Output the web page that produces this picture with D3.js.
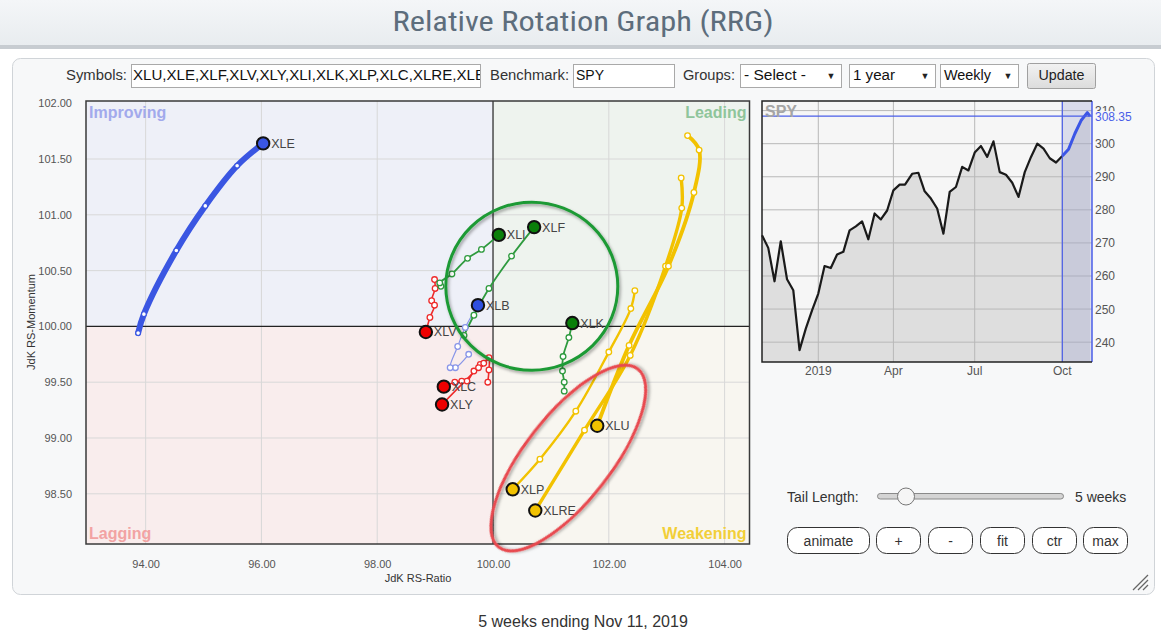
<!DOCTYPE html>
<html><head><meta charset="utf-8">
<script src="https://cdn.jsdelivr.net/npm/d3@7"></script>
<style>
body{margin:0;background:#fff;width:1161px;height:638px;overflow:hidden;}
svg{display:block;font-family:"Liberation Sans",Arial,sans-serif;}
</style></head><body>
<svg id="c" width="1161" height="638"></svg>
<script>
// ---------------- DATA ----------------
const titleText = "Relative Rotation Graph (RRG)";
const symbolsText = "XLU,XLE,XLF,XLV,XLY,XLI,XLK,XLP,XLC,XLRE,XLB";
const benchmark = "SPY";
const footerText = "5 weeks ending Nov 11, 2019";
const quadrantNames = ["Improving", "Leading", "Lagging", "Weakening"];
const ratioTicks = [94, 96, 98, 100, 102, 104];
const momentumTicks = [98.5, 99, 99.5, 100, 100.5, 101, 101.5, 102];

// RS-Ratio / RS-Momentum tails (oldest -> newest, last = head)
const xleRatio    = [93.87, 93.97, 94.53, 95.03, 95.58, 96.03];
const xleMomentum = [99.94, 100.11, 100.68, 101.08, 101.44, 101.64];
const xlfRatio    = [99.50, 99.67, 99.93, 100.32, 100.71];
const xlfMomentum = [99.92, 100.10, 100.34, 100.63, 100.89];
const xliRatio    = [99.10, 99.08, 99.29, 99.56, 99.80, 100.10];
const xliMomentum = [100.36, 100.39, 100.47, 100.61, 100.69, 100.82];
const xlbRatio    = [99.58, 99.35, 99.26, 99.39, 99.52, 99.74];
const xlbMomentum = [99.75, 99.63, 99.63, 99.82, 99.99, 100.19];
const xlkRatio    = [101.23, 101.23, 101.20, 101.21, 101.31, 101.37];
const xlkMomentum = [99.42, 99.50, 99.60, 99.73, 99.90, 100.03];
const xlvRatio    = [98.99, 99.00, 98.94, 98.99, 98.91, 98.84];
const xlvMomentum = [100.42, 100.34, 100.23, 100.19, 100.08, 99.95];
const xlcRatio    = [99.78, 99.67, 99.55, 99.46, 99.34, 99.15];
const xlcMomentum = [99.66, 99.60, 99.51, 99.51, 99.50, 99.46];
const xlyRatio    = [99.91, 99.93, 99.93, 99.84, 99.75, 99.12];
const xlyMomentum = [99.50, 99.61, 99.72, 99.67, 99.63, 99.30];
const xluRatio    = [103.36, 103.56, 103.47, 103.03, 102.35, 101.80];
const xluMomentum = [101.71, 101.58, 101.20, 100.54, 99.83, 99.11];
const xlreRatio   = [103.25, 103.26, 102.98, 102.37, 101.58, 100.73];
const xlreMomentum= [101.33, 101.06, 100.54, 99.74, 99.07, 98.35];
const xlpRatio    = [102.45, 102.38, 102.00, 101.43, 100.81, 100.34];
const xlpMomentum = [100.32, 100.16, 99.77, 99.24, 98.81, 98.54];

// SPY benchmark weekly closes
const spyDates = ["2018-11-09","2018-11-16","2018-11-23","2018-11-30","2018-12-07","2018-12-14","2018-12-21","2018-12-28",
 "2019-01-04","2019-01-11","2019-01-18","2019-01-25","2019-02-01","2019-02-08","2019-02-15","2019-02-22","2019-03-01",
 "2019-03-08","2019-03-15","2019-03-22","2019-03-29","2019-04-05","2019-04-12","2019-04-18","2019-04-26","2019-05-03",
 "2019-05-10","2019-05-17","2019-05-24","2019-05-31","2019-06-07","2019-06-14","2019-06-21","2019-06-28","2019-07-05",
 "2019-07-12","2019-07-19","2019-07-26","2019-08-02","2019-08-09","2019-08-16","2019-08-23","2019-08-30","2019-09-06",
 "2019-09-13","2019-09-20","2019-09-27","2019-10-04","2019-10-11","2019-10-18","2019-10-25","2019-11-01","2019-11-08","2019-11-11"];
const spyClose = [272.3,268.5,258.4,270.5,259.0,255.7,237.6,244.1,249.6,254.7,263.0,262.4,266.5,267.3,273.8,275.0,276.5,
 271.1,278.9,277.1,279.8,285.9,287.6,287.6,290.9,291.2,285.6,283.4,280.4,272.8,285.4,286.9,293.0,291.9,297.3,
 299.3,296.0,300.7,291.4,290.6,288.2,283.9,291.4,296.0,300.0,298.5,295.6,294.3,296.3,298.3,303.0,307.0,309.4,308.35];
const spyTicks = [240, 250, 260, 270, 280, 290, 300, 310];
const spyDateTicks = ["2019-01-11", "2019-04-05", "2019-07-05", "2019-10-11"];
const spyDateLabels = ["2019", "Apr", "Jul", "Oct"];
const tailStartDate = "2019-10-11";

const buttonLabels = ["animate", "+", "-", "fit", "ctr", "max"];

// ---------------- STYLE ----------------
const series = [
  {sym:"XLB",  r:xlbRatio,  m:xlbMomentum,  line:"#8895e8", head:"#2f4fe0", w:1.2},
  {sym:"XLV",  r:xlvRatio,  m:xlvMomentum,  line:"#ee2a2a", head:"#ee0000", w:1.6},
  {sym:"XLC",  r:xlcRatio,  m:xlcMomentum,  line:"#ee2a2a", head:"#ee0000", w:1.6},
  {sym:"XLY",  r:xlyRatio,  m:xlyMomentum,  line:"#ee2a2a", head:"#ee0000", w:1.6},
  {sym:"XLI",  r:xliRatio,  m:xliMomentum,  line:"#2e9a3e", head:"#0a7f0a", w:1.8},
  {sym:"XLF",  r:xlfRatio,  m:xlfMomentum,  line:"#2e9a3e", head:"#0a7f0a", w:1.8},
  {sym:"XLK",  r:xlkRatio,  m:xlkMomentum,  line:"#2e9a3e", head:"#0a7f0a", w:1.8},
  {sym:"XLP",  r:xlpRatio,  m:xlpMomentum,  line:"#f2c200", head:"#f2c200", w:2.4},
  {sym:"XLRE", r:xlreRatio, m:xlreMomentum, line:"#f2c200", head:"#f2c200", w:3.4},
  {sym:"XLU",  r:xluRatio,  m:xluMomentum,  line:"#f2c200", head:"#f2c200", w:3.8},
  {sym:"XLE",  r:xleRatio,  m:xleMomentum,  line:"#3a56e2", head:"#3a56e2", w:6}
];

const svg = d3.select("#c");
const defs = svg.append("defs");
const sh = defs.append("filter").attr("id","shadow").attr("x","-20%").attr("y","-20%").attr("width","140%").attr("height","140%");
sh.append("feDropShadow").attr("dx",1.5).attr("dy",2).attr("stdDeviation",1.5).attr("flood-color","#000").attr("flood-opacity",0.35);

// header
const hg = defs.append("linearGradient").attr("id","hg").attr("x1",0).attr("y1",0).attr("x2",0).attr("y2",1);
hg.append("stop").attr("offset",0).attr("stop-color","#f4f6f8");
hg.append("stop").attr("offset",1).attr("stop-color","#e8ecef");
svg.append("rect").attr("x",0).attr("y",0).attr("width",1161).attr("height",46).attr("fill","url(#hg)");
svg.append("rect").attr("x",0).attr("y",45).attr("width",1161).attr("height",4).attr("fill","#c7ccd1");
svg.append("text").attr("x",583).attr("y",31).attr("text-anchor","middle")
  .attr("font-family","'Liberation Sans Narrow','Roboto Condensed','Liberation Sans',sans-serif")
  .attr("font-size",27).attr("fill","#5d6d7c").attr("textLength",381).attr("lengthAdjust","spacingAndGlyphs").text(titleText);

// panel
svg.append("rect").attr("x",12.5).attr("y",58.5).attr("width",1142).attr("height",536).attr("rx",8)
  .attr("fill","#f7f8f9").attr("stroke","#d0d4d8");

// controls row
const cond = "'Liberation Sans Narrow','Liberation Sans',sans-serif";
function lbl(x, t, w){ svg.append("text").attr("x",x).attr("y",80).attr("font-size",14).attr("font-family",cond)
  .attr("fill","#333").attr("textLength",w).attr("lengthAdjust","spacingAndGlyphs").text(t); }
lbl(66,"Symbols:",61); lbl(490,"Benchmark:",79); lbl(683,"Groups:",52);
defs.append("clipPath").attr("id","symclip").append("rect").attr("x",132).attr("y",64).attr("width",348).attr("height",23);
svg.append("rect").attr("x",131.5).attr("y",64.5).attr("width",349).attr("height",23).attr("fill","#fff").attr("stroke","#a9a9a9");
svg.append("text").attr("x",133).attr("y",80).attr("font-size",14).attr("font-family",cond).attr("fill","#111")
  .attr("clip-path","url(#symclip)").attr("textLength",352).attr("lengthAdjust","spacingAndGlyphs").text(symbolsText);
svg.append("rect").attr("x",573.5).attr("y",64.5).attr("width",101).attr("height",23).attr("fill","#fff").attr("stroke","#a9a9a9");
svg.append("text").attr("x",576).attr("y",80).attr("font-size",14).attr("font-family",cond).attr("fill","#111").text(benchmark);
const selects = [{x:740,w:101,t:"- Select -",tw:62},{x:849,w:86,t:"1 year",tw:42},{x:940,w:78,t:"Weekly",tw:47}];
selects.forEach(s=>{
  svg.append("rect").attr("x",s.x+0.5).attr("y",64.5).attr("width",s.w).attr("height",23).attr("fill","#fff").attr("stroke","#a9a9a9");
  svg.append("text").attr("x",s.x+4).attr("y",80).attr("font-size",14).attr("font-family",cond).attr("fill","#111")
    .attr("textLength",s.tw).attr("lengthAdjust","spacingAndGlyphs").text(s.t);
  svg.append("text").attr("x",s.x+s.w-10).attr("y",79).attr("text-anchor","middle").attr("font-size",9).attr("fill","#222").text("▼");
});
const bg = defs.append("linearGradient").attr("id","bg").attr("x1",0).attr("y1",0).attr("x2",0).attr("y2",1);
bg.append("stop").attr("offset",0).attr("stop-color","#f2f2f2");
bg.append("stop").attr("offset",1).attr("stop-color","#dcdcdc");
svg.append("rect").attr("x",1027.5).attr("y",63.5).attr("width",68).attr("height",25).attr("rx",2).attr("fill","url(#bg)").attr("stroke","#a0a0a0");
svg.append("text").attr("x",1061.5).attr("y",80).attr("text-anchor","middle").attr("font-size",14).attr("font-family",cond)
  .attr("fill","#222").attr("textLength",46).attr("lengthAdjust","spacingAndGlyphs").text("Update");

// ---------------- RRG ----------------
const X0 = 86, X1 = 749.5, Y0 = 101, Y1 = 544;
const x = d3.scaleLinear().domain([92.97, 104.43]).range([X0, X1]);
const y = d3.scaleLinear().domain([98.05, 102.02]).range([Y1, Y0]);
const g = svg.append("g");
const qx = x(100), qy = y(100);
const quads = [
  {x:X0, y:Y0, w:qx-X0, h:qy-Y0, fill:"#eef0f8"},
  {x:qx, y:Y0, w:X1-qx, h:qy-Y0, fill:"#eef3ee"},
  {x:X0, y:qy, w:qx-X0, h:Y1-qy, fill:"#f9eded"},
  {x:qx, y:qy, w:X1-qx, h:Y1-qy, fill:"#f8f6f0"}
];
g.selectAll("rect.q").data(quads).join("rect").attr("x",d=>d.x).attr("y",d=>d.y).attr("width",d=>d.w).attr("height",d=>d.h).attr("fill",d=>d.fill);
g.selectAll("line.gx").data(ratioTicks.filter(v=>v!==100)).join("line").attr("x1",d=>x(d)).attr("x2",d=>x(d)).attr("y1",Y0).attr("y2",Y1).attr("stroke","#d8d8d8");
g.selectAll("line.gy").data(momentumTicks.filter(v=>v!==100 && v!==102)).join("line").attr("y1",d=>y(d)).attr("y2",d=>y(d)).attr("x1",X0).attr("x2",X1).attr("stroke","#d8d8d8");
g.append("line").attr("x1",qx).attr("x2",qx).attr("y1",Y0).attr("y2",Y1).attr("stroke","#222").attr("stroke-width",1.2);
g.append("line").attr("y1",qy).attr("y2",qy).attr("x1",X0).attr("x2",X1).attr("stroke","#222").attr("stroke-width",1.2);
g.append("rect").attr("x",X0).attr("y",Y0).attr("width",X1-X0).attr("height",Y1-Y0).attr("fill","none").attr("stroke","#3a3a3a").attr("stroke-width",1.5);

// quadrant labels
const ql = [
  {t:quadrantNames[0], x:X0+3, y:Y0+17, a:"start", c:"#a2aaec"},
  {t:quadrantNames[1], x:X1-3, y:Y0+17, a:"end", c:"#8fc59b"},
  {t:quadrantNames[2], x:X0+3, y:Y1-5, a:"start", c:"#f2a3a3"},
  {t:quadrantNames[3], x:X1-3, y:Y1-5, a:"end", c:"#f2cf38"}
];
g.selectAll("text.ql").data(ql).join("text").attr("x",d=>d.x).attr("y",d=>d.y).attr("text-anchor",d=>d.a)
  .attr("font-size",16).attr("font-weight","bold").attr("fill",d=>d.c).text(d=>d.t);

// axes
const ax = g.append("g").attr("transform",`translate(0,${Y1})`)
  .call(d3.axisBottom(x).tickValues(ratioTicks).tickFormat(d3.format(".2f")).tickSize(0).tickPadding(16));
ax.select(".domain").remove();
ax.selectAll("text").attr("font-size",11).attr("fill","#555").attr("font-family","'Liberation Sans',Arial,sans-serif");
const ay = g.append("g").attr("transform",`translate(${X0},0)`)
  .call(d3.axisLeft(y).tickValues(momentumTicks).tickFormat(d3.format(".2f")).tickSize(0).tickPadding(14));
ay.select(".domain").remove();
ay.selectAll("text").attr("font-size",11).attr("fill","#555").attr("font-family","'Liberation Sans',Arial,sans-serif");
g.append("text").attr("x",418).attr("y",582).attr("text-anchor","middle").attr("font-size",11).attr("fill","#333").text("JdK RS-Ratio");
g.append("text").attr("transform","translate(35,322) rotate(-90)").attr("text-anchor","middle").attr("font-size",11).attr("fill","#333").text("JdK RS-Momentum");

// tails
const line = d3.line().x(d=>x(d[0])).y(d=>y(d[1])).curve(d3.curveCatmullRom.alpha(0.5));
series.forEach(s=>{ s.pts = s.r.map((v,i)=>[v, s.m[i]]); });
series.forEach(s=>{
  g.append("path").attr("d",line(s.pts)).attr("fill","none").attr("stroke",s.line).attr("stroke-width",s.w).attr("stroke-linecap","round");
});
series.forEach(s=>{
  g.selectAll(null).data(s.pts.slice(0,-1)).join("circle").attr("cx",d=>x(d[0])).attr("cy",d=>y(d[1]))
    .attr("r", s.w>=5 ? 2.4 : 2.8).attr("fill","#fff").attr("stroke",s.line).attr("stroke-width", s.w>=5 ? 1.2 : 1.3);
});
series.forEach(s=>{
  const h = s.pts[s.pts.length-1];
  g.append("circle").attr("cx",x(h[0])).attr("cy",y(h[1])).attr("r",6.2).attr("fill",s.head).attr("stroke","#111").attr("stroke-width",2);
  g.append("text").attr("x",x(h[0])+8).attr("y",y(h[1])+4.5).attr("font-size",12.5).attr("fill","#444").text(s.sym);
});

// annotation ellipses
g.append("ellipse").attr("cx",x(100.67)).attr("cy",y(100.36)).attr("rx",86).attr("ry",84)
  .attr("fill","none").attr("stroke","#1f9a35").attr("stroke-width",3).attr("filter","url(#shadow)");
g.append("ellipse").attr("transform",`translate(${x(101.30)},${y(98.82)}) rotate(-52)`).attr("rx",113).attr("ry",43)
  .attr("fill","none").attr("stroke","#e84a4f").attr("stroke-width",3).attr("filter","url(#shadow)");

// ---------------- SPY chart ----------------
const parse = d3.utcParse("%Y-%m-%d");
const sd = spyDates.map(parse);
const SX0 = 762, SX1 = 1092, SY0 = 101, SY1 = 362;
const sx = d3.scaleUtc().domain([sd[0], sd[sd.length-1]]).range([SX0, 1090]);
const sy = d3.scaleLinear().domain([234, 312.9]).range([SY1, SY0]);
const sg = svg.append("g");
defs.append("clipPath").attr("id","spyclip").append("rect").attr("x",SX0).attr("y",SY0).attr("width",SX1-SX0).attr("height",SY1-SY0);
sg.append("rect").attr("x",SX0).attr("y",SY0).attr("width",SX1-SX0).attr("height",SY1-SY0).attr("fill","#f6f6f6");
const spyPts = sd.map((d,i)=>[d, spyClose[i]]);
const area = d3.area().x(d=>sx(d[0])).y0(SY1).y1(d=>sy(d[1]));
sg.append("path").attr("d",area(spyPts)).attr("fill","#dedede").attr("clip-path","url(#spyclip)");
sg.selectAll("line.sgy").data(spyTicks).join("line").attr("x1",SX0).attr("x2",SX1).attr("y1",d=>sy(d)).attr("y2",d=>sy(d))
  .attr("stroke","#b8b8b8").attr("stroke-width",1).attr("clip-path","url(#spyclip)");
const tickDates = spyDateTicks.map(parse);
sg.selectAll("line.sgx").data(tickDates).join("line").attr("x1",d=>sx(d)).attr("x2",d=>sx(d)).attr("y1",SY0).attr("y2",SY1)
  .attr("stroke","#b8b8b8");
const ts = parse(tailStartDate);
sg.append("rect").attr("x",sx(ts)).attr("y",SY0).attr("width",SX1-sx(ts)).attr("height",SY1-SY0).attr("fill","#98a0d0").attr("opacity",0.3);
const tsIdx = spyDates.indexOf(tailStartDate);
const sline = d3.line().x(d=>sx(d[0])).y(d=>sy(d[1]));
sg.append("path").attr("d",sline(spyPts.slice(0,tsIdx+1))).attr("fill","none").attr("stroke","#1a1a1a").attr("stroke-width",2.2).attr("stroke-linejoin","round");
sg.append("path").attr("d",sline(spyPts.slice(tsIdx))).attr("fill","none").attr("stroke","#3b55e6").attr("stroke-width",3).attr("stroke-linejoin","round");
const lastV = spyClose[spyClose.length-1];
sg.append("line").attr("x1",SX0).attr("x2",SX1).attr("y1",sy(lastV)).attr("y2",sy(lastV)).attr("stroke","#4a5ee8").attr("stroke-width",1.2);
sg.append("line").attr("x1",sx(ts)).attr("x2",sx(ts)).attr("y1",SY0).attr("y2",SY1).attr("stroke","#4a5ee8").attr("stroke-width",1.2);
sg.append("line").attr("x1",SX1).attr("x2",SX1).attr("y1",SY0).attr("y2",SY1).attr("stroke","#4a5ee8").attr("stroke-width",1.5);
sg.append("path").attr("d",`M${SX1},${SY0}H${SX0}V${SY1}H${SX1}`).attr("fill","none").attr("stroke","#222").attr("stroke-width",1.5);
sg.append("text").attr("x",SX0+3).attr("y",SY0+16).attr("font-size",16).attr("font-weight","bold").attr("fill","#a5a5a5").text(benchmark);
// right-axis labels; the top one is partly hidden under the last-value label, as in the source
defs.append("clipPath").attr("id","lblclip").append("rect").attr("x",SX1).attr("y",100).attr("width",60).attr("height",275);
sg.selectAll("text.sty").data(spyTicks).join("text").attr("x",SX1+3).attr("y",d=>sy(d)+4.5).attr("font-size",12)
  .attr("fill","#555").attr("clip-path","url(#lblclip)").text(d=>d);
sg.append("rect").attr("x",SX1+2).attr("y",sy(lastV)-5).attr("width",40).attr("height",12).attr("fill","#f7f8f9");
sg.append("text").attr("x",SX1+3).attr("y",sy(lastV)+5).attr("font-size",12).attr("fill","#4a5ee8").text(lastV.toFixed(2));
sg.selectAll("text.stx").data(tickDates).join("text").attr("x",d=>sx(d)).attr("y",SY1+13).attr("text-anchor","middle")
  .attr("font-size",12).attr("fill","#555").text((d,i)=>spyDateLabels[i]);

// ---------------- controls bottom right ----------------
svg.append("text").attr("x",787).attr("y",502).attr("font-size",14).attr("fill","#333").text("Tail Length:");
svg.append("rect").attr("x",877.5).attr("y",493.5).attr("width",186).attr("height",5.5).attr("rx",2.75).attr("fill","#d4d4d4").attr("stroke","#8a8a8a");
svg.append("circle").attr("cx",906).attr("cy",496.5).attr("r",8.5).attr("fill","#f5f5f5").attr("stroke","#777");
svg.append("text").attr("x",1075).attr("y",502).attr("font-size",14).attr("fill","#333").text("5 weeks");
const btnX = [787, 876, 928, 980, 1032, 1083];
const btnW = [82, 44, 44, 44, 44, 44];
buttonLabels.forEach((t,i)=>{
  svg.append("rect").attr("x",btnX[i]+0.5).attr("y",527.5).attr("width",btnW[i]).attr("height",26).attr("rx",10).attr("fill","#fff").attr("stroke","#333");
  svg.append("text").attr("x",btnX[i]+btnW[i]/2+0.5).attr("y",545.5).attr("text-anchor","middle").attr("font-size",14).attr("fill","#333").text(t);
});
// resize grip
[[1148,575,1133,590],[1148,580,1138,590],[1148,585,1143,590]].forEach(l=>{
  svg.append("line").attr("x1",l[0]).attr("y1",l[1]).attr("x2",l[2]).attr("y2",l[3]).attr("stroke","#666").attr("stroke-width",1.3);
});

// footer
svg.append("text").attr("x",583).attr("y",627).attr("text-anchor","middle").attr("font-size",16).attr("fill","#333")
  .attr("font-family",cond).text(footerText);
</script>
</body></html>
